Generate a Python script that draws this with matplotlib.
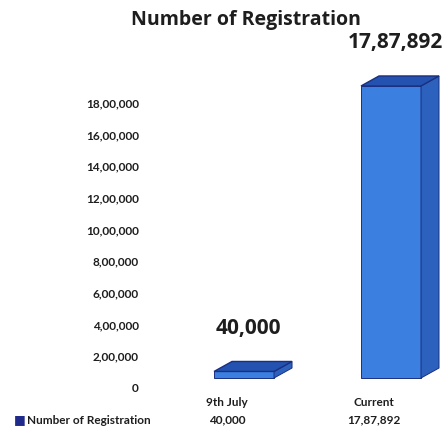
import matplotlib.pyplot as plt
from matplotlib.patches import Polygon

plt.rcParams["font.family"] = ["Open Sans", "DejaVu Sans"]

categories = ["9th July", "Current"]
registrations = [40000, 1787892]
series_name = "Number of Registration"
yticks = list(range(0, 1800001, 200000))


def indian_format(n):
    s = str(int(n))
    if len(s) <= 3:
        return s
    head, tail = s[:-3], s[-3:]
    parts = []
    while len(head) > 2:
        parts.insert(0, head[-2:])
        head = head[:-2]
    if head:
        parts.insert(0, head)
    return ",".join(parts) + "," + tail


W, H = 445, 426
fig = plt.figure(figsize=(W / 100, H / 100), dpi=100)

xlim = (-0.524, 1.483)
front_col = "#3b80e0"
side_col = "#2c62bd"
top_col = "#2452b0"
edge_col = "#1a2f80"
text_col = "#1e1e1e"
small_font = ["Lato", "DejaVu Sans"]

# axis with the tick labels and the data table
ax = fig.add_axes([150 / W, 38 / H, 295 / W, 285 / H])
ax.set_xlim(*xlim)
ax.set_ylim(0, 1800000)
ax.set_yticks(yticks)
ax.set_yticklabels([indian_format(t) for t in yticks], fontsize=8.5, fontweight="bold",
                   color=text_col, family=small_font)
ax.tick_params(axis="y", length=0, pad=8)
ax.set_xticks([])
for sp in ax.spines.values():
    sp.set_visible(False)
ax.patch.set_alpha(0)

# bars drawn on an overlay so the 3D floor sits a bit higher
bax_box = [150 / W, (H - 378) / H, 295 / W, 294 / H]
bax = fig.add_axes(bax_box)
bax.set_xlim(*xlim)
bax.set_ylim(0, 1800000)
bax.axis("off")

px_x = bax_box[2] * W / (xlim[1] - xlim[0])
px_y = bax_box[3] * H / 1800000
dx = 18 / px_x
dy = 10 / px_y
shift = 17 / px_x
width = 60 / px_x

for i, v in enumerate(registrations):
    x = i + shift
    l, r = x - width / 2, x + width / 2
    bax.bar(x, v, width, color=front_col, edgecolor=edge_col, linewidth=0.7, zorder=2, clip_on=False)
    bax.add_patch(Polygon([(r, 0), (r + dx, dy), (r + dx, v + dy), (r, v)], closed=True,
                          facecolor=side_col, edgecolor=edge_col, linewidth=0.7, zorder=2, clip_on=False))
    bax.add_patch(Polygon([(l, v), (r, v), (r + dx, v + dy), (l + dx, v + dy)], closed=True,
                          facecolor=top_col, edgecolor=edge_col, linewidth=1.0, zorder=3, clip_on=False))
    bax.annotate(indian_format(v), (x + dx / 4, v + dy), xytext=(0, 33), textcoords="offset pixels",
                 ha="center", va="center", fontsize=15, fontweight="bold", color=text_col,
                 annotation_clip=False)

# data table below the chart
for i, (c, v) in enumerate(zip(categories, registrations)):
    ax.text(i, -90000, c, ha="center", va="center", fontsize=8.5, fontweight="bold",
            color=text_col, family=small_font)
    ax.text(i, -203000, indian_format(v), ha="center", va="center", fontsize=8.5,
            fontweight="bold", color=text_col, family=small_font)

fig.text(14 / W, 1 - 420 / H, "\u25a0", color="#1f2a8a", fontsize=9, ha="left", va="center",
         family=["DejaVu Sans"])
fig.text(27 / W, 1 - 420 / H, series_name, fontsize=8.5, fontweight="bold",
         color=text_col, ha="left", va="center", family=small_font)

fig.text(246 / W, 1 - 20 / H, "Number of Registration", ha="center", va="center",
         fontsize=14, fontweight="bold", color=text_col)

fig.savefig("out.png", dpi=100)
